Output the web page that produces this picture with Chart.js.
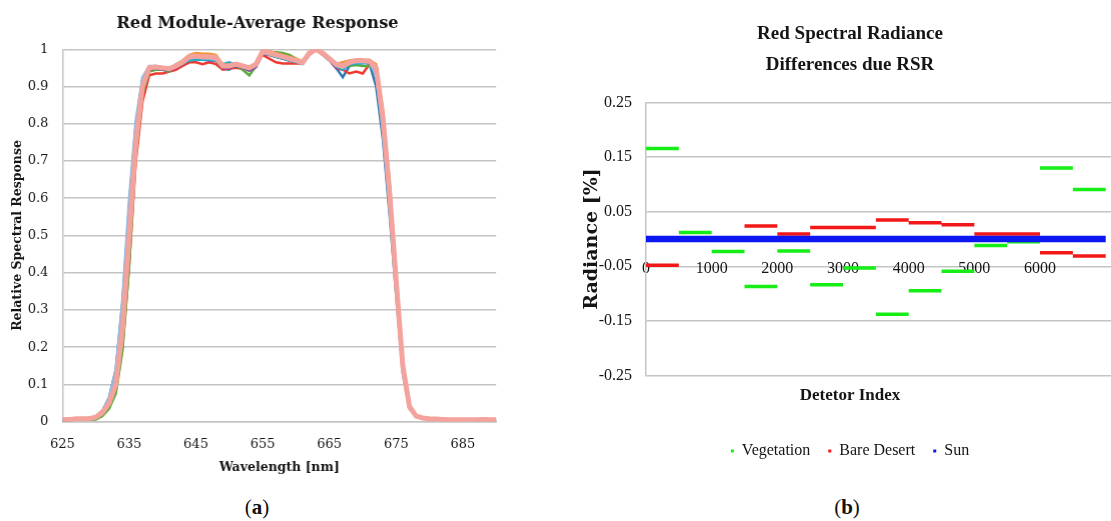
<!DOCTYPE html>
<html lang="en">
<head>
<meta charset="UTF-8">
<title>Red Module Response and Radiance Differences</title>
<style>
    html, body {
        margin: 0;
        padding: 0;
        width: 1111px;
        height: 521px;
        overflow: hidden;
        background: #FFFFFF;
    }
    .panel {
        position: absolute;
        top: 0;
        height: 478px;
    }
    .cap {
        position: absolute;
        top: 495px;
        font-family: "Liberation Serif", serif;
        font-size: 21px;
        line-height: 24px;
        color: #111;
        transform: translateX(-50%);
    }
</style>
</head>
<body>
<div class="panel" style="left:0; width:497.7px"><canvas id="chartA"></canvas></div>
<div class="panel" style="left:570px; width:560px"><canvas id="chartB"></canvas></div>
<div class="cap" style="left:257px">(<b>a</b>)</div>
<div class="cap" style="left:847px">(<b>b</b>)</div>

<script src="https://cdn.jsdelivr.net/npm/chart.js"></script>
<script>
// ---- (a) Red module relative spectral response ----
const wavelengths = [
    625, 626, 627, 628, 629, 630, 631, 632, 633, 634,
    635, 636, 637, 638, 639, 640, 641, 642, 643, 644,
    645, 646, 647, 648, 649, 650, 651, 652, 653, 654,
    655, 656, 657, 658, 659, 660, 661, 662, 663, 664,
    665, 666, 667, 668, 669, 670, 671, 672, 673, 674,
    675, 676, 677, 678, 679, 680, 681, 682, 683, 684,
    685, 686, 687, 688, 689, 690
];
const wlTicks = [625, 635, 645, 655, 665, 675, 685];
const respTicks = [0, 0.1, 0.2, 0.3, 0.4, 0.5, 0.6, 0.7, 0.8, 0.9, 1];

const respBlue = [
    .003, .004, .006, .007, .008, .014, .030, .065, .140, .320,
    .580, .800, .920, .950, .950, .948, .946, .952, .962, .975,
    .978, .975, .972, .970, .948, .945, .958, .950, .945, .955,
    .990, .985, .980, .975, .970, .966, .962, .985, 1.00, .985,
    .970, .950, .925, .955, .962, .965, .962, .900, .760, .560,
    .340, .130, .035, .015, .010, .008, .006, .005, .005, .005,
    .005, .005, .004, .005, .005, .004
];
const respRed = [
    .006, .008, .010, .008, .006, .008, .018, .040, .080, .200,
    .420, .700, .860, .930, .935, .935, .940, .945, .955, .965,
    .965, .960, .965, .960, .945, .948, .950, .948, .952, .958,
    .985, .975, .965, .962, .962, .962, .962, .985, .998, .985,
    .972, .950, .945, .935, .940, .935, .960, .950, .830, .640,
    .400, .160, .045, .016, .010, .008, .007, .006, .005, .005,
    .005, .005, .005, .005, .005, .005
];
const respGreen = [
    .004, .005, .006, .006, .005, .006, .015, .035, .075, .190,
    .420, .720, .880, .940, .945, .945, .940, .960, .968, .975,
    .978, .978, .975, .970, .950, .952, .955, .945, .930, .955,
    .990, .990, .992, .990, .985, .975, .965, .990, 1.00, .990,
    .975, .960, .960, .955, .958, .955, .955, .950, .830, .630,
    .390, .160, .042, .016, .010, .008, .007, .006, .005, .005,
    .005, .005, .005, .005, .005, .005
];
const respPurple = [
    .004, .005, .006, .007, .008, .012, .025, .055, .110, .270,
    .520, .770, .910, .945, .948, .945, .944, .950, .960, .972,
    .975, .972, .970, .970, .950, .950, .955, .950, .942, .952,
    .988, .985, .980, .975, .970, .968, .962, .988, .998, .988,
    .972, .950, .958, .965, .965, .965, .962, .940, .810, .610,
    .370, .140, .038, .015, .010, .008, .007, .006, .005, .005,
    .005, .005, .005, .005, .005, .005
];
const respCyan = [
    .004, .005, .006, .007, .008, .013, .028, .060, .120, .300,
    .550, .790, .920, .952, .955, .952, .950, .955, .962, .970,
    .972, .972, .972, .970, .960, .965, .958, .955, .952, .958,
    .990, .985, .980, .975, .970, .965, .962, .988, .998, .990,
    .972, .955, .945, .960, .962, .962, .965, .930, .790, .590,
    .360, .140, .040, .016, .010, .008, .007, .006, .006, .005,
    .005, .005, .005, .005, .006, .005
];
const respOrange = [
    .006, .007, .009, .010, .008, .010, .020, .045, .090, .220,
    .470, .740, .890, .948, .952, .950, .948, .958, .970, .985,
    .990, .988, .988, .985, .960, .958, .962, .958, .952, .962,
    .995, .995, .990, .985, .980, .975, .968, .990, 1.00, .990,
    .978, .960, .965, .970, .972, .970, .972, .960, .840, .650,
    .400, .160, .045, .017, .010, .008, .007, .006, .005, .005,
    .005, .005, .006, .008, .006, .005
];
const respLightBlue = [
    .004, .005, .006, .007, .008, .014, .030, .065, .140, .330,
    .600, .810, .925, .955, .955, .950, .950, .955, .962, .975,
    .978, .976, .975, .972, .958, .955, .960, .956, .952, .958,
    .990, .988, .982, .978, .972, .968, .960, .990, 1.00, .990,
    .972, .955, .950, .962, .965, .966, .965, .930, .780, .580,
    .360, .140, .040, .016, .010, .008, .007, .006, .005, .005,
    .005, .005, .005, .005, .005, .005
];
const respPink = [
    .005, .006, .007, .008, .008, .012, .025, .050, .100, .250,
    .500, .750, .900, .950, .952, .950, .948, .955, .965, .980,
    .982, .980, .980, .978, .955, .955, .960, .955, .950, .960,
    .995, .990, .985, .980, .975, .970, .965, .990, 1.00, .990,
    .975, .960, .955, .965, .970, .970, .968, .950, .820, .620,
    .380, .150, .040, .015, .010, .008, .007, .006, .005, .005,
    .005, .005, .005, .006, .005, .005
];

const respSeries = [respBlue, respRed, respGreen, respPurple, respCyan, respOrange, respLightBlue, respPink];
const respColors = ['#2C78B0', '#EE3A2E', '#5BAA3C', '#7C52A2', '#27A8C8', '#F59330', '#8DB8E2', '#F4A29C'];

// ---- (b) Red spectral radiance differences ----
const detectorEdges = [0, 500, 1000, 1500, 2000, 2500, 3000, 3500, 4000, 4500, 5000, 5500, 6000, 6500, 7000];
const vegetation = [0.166, 0.012, -0.023, -0.087, -0.022, -0.084, -0.053, -0.138, -0.095, -0.059, -0.012, -0.005, 0.130, 0.091];
const bareDesert = [-0.048, 0.000, 0.000, 0.024, 0.009, 0.021, 0.021, 0.035, 0.030, 0.026, 0.009, 0.009, -0.025, -0.031];
const sun = [0, 0, 0, 0, 0, 0, 0, 0, 0, 0, 0, 0, 0, 0];
const detTicks = [0, 1000, 2000, 3000, 4000, 5000, 6000];
const radTicks = [-0.25, -0.15, -0.05, 0.05, 0.15, 0.25];

function segments(values) {
    const pts = [];
    values.forEach((v, i) => {
        pts.push({x: detectorEdges[i], y: v});
        pts.push({x: detectorEdges[i + 1], y: v});
        pts.push({x: detectorEdges[i + 1], y: null});
    });
    return pts;
}

const gridGray = '#C4C4C4';
const textCol = '#151515';

new Chart(document.getElementById('chartA'), {
    type: 'line',
    data: {
        datasets: respSeries.map((s, i) => ({
            label: 'Detector ' + (i + 1),
            data: wavelengths.map((w, j) => ({x: w, y: s[j]})),
            borderColor: respColors[i],
            backgroundColor: respColors[i],
            borderWidth: i === respSeries.length - 1 ? 5 : 2.5,
            pointRadius: 0,
            tension: 0,
            order: respSeries.length - i
        }))
    },
    options: {
        responsive: true,
        maintainAspectRatio: false,
        animation: false,
        layout: {padding: {left: 16.3, right: 0, top: 0, bottom: 0}},
        plugins: {
            legend: {display: false},
            tooltip: {enabled: false},
            title: {
                display: true,
                text: 'Red Module-Average Response',
                color: textCol,
                font: {family: 'DejaVu Serif', size: 16.3, weight: 'bold', lineHeight: 1.2},
                padding: {top: 13.5, bottom: 16.2}
            }
        },
        scales: {
            x: {
                type: 'linear',
                min: 625,
                max: 690,
                afterBuildTicks: axis => { axis.ticks = wlTicks.map(v => ({value: v})); },
                afterFit: axis => { axis.height = 478 - 421.7; },
                grid: {display: false, drawTicks: false},
                border: {display: true, color: gridGray, width: 1.5},
                ticks: {
                    color: textCol,
                    padding: 15.5,
                    maxRotation: 0,
                    font: {family: 'DejaVu Serif', size: 13}
                },
                title: {
                    display: true,
                    text: 'Wavelength [nm]',
                    color: textCol,
                    font: {family: 'DejaVu Serif', size: 12.5, weight: 'bold', lineHeight: 1.2},
                    padding: {top: 0, bottom: 3}
                }
            },
            y: {
                min: 0,
                max: 1,
                afterBuildTicks: axis => { axis.ticks = respTicks.map(v => ({value: v})); },
                afterFit: axis => { axis.width = 46; },
                grid: {color: gridGray, lineWidth: 1.5, drawTicks: false},
                border: {display: true, color: gridGray, width: 1.5},
                ticks: {
                    color: textCol,
                    padding: 14,
                    font: {family: 'DejaVu Serif', size: 13},
                    callback: v => String(Number(v.toFixed(2)))
                },
                title: {
                    display: true,
                    text: 'Relative Spectral Response',
                    color: textCol,
                    font: {family: 'DejaVu Serif', size: 12.5, weight: 'bold', lineHeight: 1.2},
                    padding: {top: -6.3, bottom: 0}
                }
            }
        }
    }
});

const radSeries = [vegetation, bareDesert, sun];
const radNames = ['Vegetation', 'Bare Desert', 'Sun'];
const radColors = ['#17EE17', '#F21818', '#0B16F0'];
const radWidths = [3.5, 3.5, 6.5];

new Chart(document.getElementById('chartB'), {
    type: 'line',
    data: {
        datasets: radSeries.map((s, i) => ({
            label: radNames[i],
            data: segments(s),
            borderColor: radColors[i],
            backgroundColor: radColors[i],
            pointBackgroundColor: radColors[i],
            pointBorderColor: radColors[i],
            pointBorderWidth: 0,
            borderWidth: radWidths[i],
            pointRadius: 0,
            spanGaps: false,
            order: radSeries.length - i
        }))
    },
    options: {
        responsive: true,
        maintainAspectRatio: false,
        animation: false,
        layout: {padding: {left: 0, right: 0, top: 0, bottom: 9}},
        plugins: {
            tooltip: {enabled: false},
            subtitle: {
                display: true,
                position: 'top',
                text: ['Red Spectral Radiance', 'Differences due RSR'],
                color: textCol,
                font: {family: 'Liberation Serif', size: 19, weight: 'bold', lineHeight: 31 / 19},
                padding: {top: 18.5, bottom: 22.2}
            },
            title: {
                display: true,
                position: 'bottom',
                weight: 500,
                text: 'Detetor Index',
                color: textCol,
                font: {family: 'Liberation Serif', size: 17, weight: 'bold', lineHeight: 1.2},
                padding: {top: 10.5, bottom: 18.8}
            },
            legend: {
                position: 'bottom',
                weight: 1000,
                labels: {
                    usePointStyle: true,
                    pointStyle: 'rect',
                    boxWidth: 3,
                    boxHeight: 3,
                    padding: 18,
                    color: textCol,
                    font: {family: 'Liberation Serif', size: 16},
                    sort: (a, b) => a.datasetIndex - b.datasetIndex
                }
            }
        },
        scales: {
            x: {
                type: 'linear',
                position: {y: 0},
                min: 0,
                max: 7370,
                afterBuildTicks: axis => { axis.ticks = detTicks.map(v => ({value: v})); },
                grid: {display: false, drawTicks: false},
                border: {display: false},
                ticks: {
                    color: textCol,
                    padding: 20,
                    maxRotation: 0,
                    font: {family: 'Liberation Serif', size: 16},
                    callback: v => String(v)
                }
            },
            y: {
                min: -0.25,
                max: 0.25,
                afterBuildTicks: axis => { axis.ticks = radTicks.map(v => ({value: v})); },
                afterFit: axis => { axis.width = 76; },
                grid: {color: gridGray, lineWidth: 1.5, drawTicks: false},
                border: {display: true, color: gridGray, width: 1.5},
                ticks: {
                    color: textCol,
                    padding: 14,
                    font: {family: 'Liberation Serif', size: 16},
                    callback: v => v.toFixed(2)
                },
                title: {
                    display: true,
                    text: 'Radiance [%]',
                    color: textCol,
                    font: {family: 'DejaVu Serif', size: 19, weight: 'bold', lineHeight: 1.2},
                    padding: {top: 10.6, bottom: 0}
                }
            }
        }
    }
});
</script>
</body>
</html>
